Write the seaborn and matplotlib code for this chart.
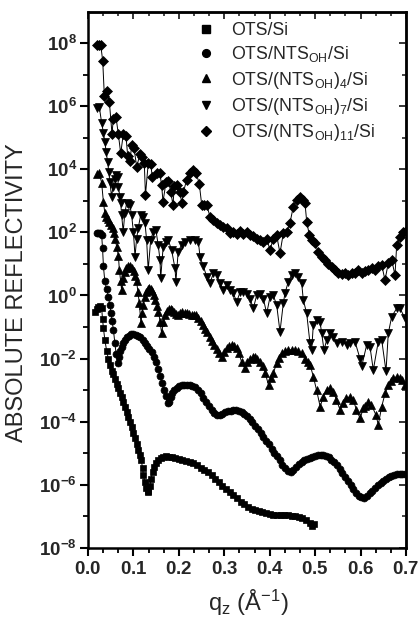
import numpy as np
import pandas as pd
import matplotlib
matplotlib.use("Agg")
import matplotlib.pyplot as plt
import seaborn as sns
from matplotlib.ticker import FixedLocator, FuncFormatter, MultipleLocator, NullFormatter
from matplotlib.lines import Line2D

# ---------------- data (q_z in 1/Angstrom, log10 of absolute reflectivity) ----------------
ots_si = [(0.015,-0.51),(0.019,-0.42),(0.023,-0.36),(0.027,-0.34),(0.030,-0.40),(0.032,-0.75),(0.034,-1.04),
    (0.037,-1.40),(0.041,-1.75),(0.045,-2.02),(0.048,-2.20),(0.052,-2.38),(0.056,-2.50),(0.060,-2.65),(0.063,-2.80),
    (0.067,-2.93),(0.071,-3.08),(0.074,-3.21),(0.078,-3.38),(0.082,-3.54),(0.085,-3.68),(0.089,-3.84),(0.093,-4.00),
    (0.096,-4.16),(0.100,-4.35),(0.104,-4.53),(0.107,-4.70),(0.111,-4.90),(0.114,-5.05),(0.117,-5.21),(0.120,-5.45),
    (0.122,-5.70),(0.125,-5.90),(0.128,-6.10),(0.131,-6.20),(0.133,-6.22),(0.136,-6.05),(0.139,-5.80),(0.142,-5.58),
    (0.146,-5.42),(0.150,-5.30),(0.155,-5.21),(0.160,-5.15),(0.166,-5.11),(0.172,-5.10),(0.178,-5.11),(0.185,-5.13),
    (0.192,-5.15),(0.200,-5.17),(0.208,-5.20),(0.216,-5.23),(0.224,-5.27),(0.232,-5.32),(0.240,-5.38),(0.248,-5.45),
    (0.256,-5.52),(0.264,-5.60),(0.272,-5.70),(0.280,-5.80),(0.288,-5.92),(0.296,-6.03),(0.304,-6.13),(0.312,-6.23),
    (0.320,-6.33),(0.328,-6.43),(0.336,-6.53),(0.344,-6.62),(0.352,-6.70),(0.360,-6.76),(0.368,-6.80),(0.376,-6.83),
    (0.384,-6.86),(0.392,-6.88),(0.400,-6.92),(0.408,-6.95),(0.416,-6.96),(0.424,-6.94),(0.432,-6.96),(0.440,-6.97),
    (0.448,-6.99),(0.456,-7.00),(0.464,-7.03),(0.472,-7.06),(0.480,-7.12),(0.488,-7.20),(0.494,-7.30),(0.498,-7.25)]

ots_nts1 = [(0.020,1.97),(0.023,1.99),(0.027,1.97),(0.030,1.92),(0.032,1.50),(0.034,0.92),(0.037,0.45),(0.041,0.20),
    (0.045,-0.04),(0.048,-0.30),(0.051,-0.57),(0.053,-0.82),(0.056,-1.09),(0.059,-1.50),(0.062,-1.85),(0.065,-2.15),
    (0.068,-1.95),(0.071,-1.75),(0.074,-1.62),(0.078,-1.50),(0.082,-1.40),(0.086,-1.33),(0.090,-1.27),(0.095,-1.23),
    (0.100,-1.22),(0.105,-1.24),(0.110,-1.28),(0.115,-1.33),(0.120,-1.40),(0.125,-1.49),(0.130,-1.59),(0.135,-1.70),
    (0.140,-1.80),(0.145,-1.95),(0.150,-2.12),(0.155,-2.32),(0.159,-2.55),(0.163,-2.78),(0.167,-3.00),(0.171,-3.18),
    (0.175,-3.40),(0.178,-3.38),(0.182,-3.22),(0.186,-3.08),(0.190,-2.98),(0.195,-2.92),(0.200,-2.87),(0.206,-2.84),
    (0.212,-2.83),(0.218,-2.83),(0.224,-2.84),(0.230,-2.86),(0.236,-2.90),(0.242,-2.98),(0.248,-3.10),(0.254,-3.25),
    (0.260,-3.38),(0.266,-3.50),(0.272,-3.62),(0.278,-3.72),(0.284,-3.78),(0.290,-3.78),(0.296,-3.74),(0.302,-3.70),
    (0.308,-3.67),(0.314,-3.65),(0.320,-3.64),(0.326,-3.64),(0.332,-3.66),(0.338,-3.70),(0.344,-3.75),(0.350,-3.82),
    (0.356,-3.92),(0.362,-4.02),(0.368,-4.12),(0.374,-4.24),(0.380,-4.35),(0.386,-4.47),(0.392,-4.60),(0.398,-4.72),
    (0.404,-4.85),(0.410,-4.98),(0.416,-5.10),(0.422,-5.22),(0.428,-5.36),(0.434,-5.48),(0.440,-5.56),(0.446,-5.58),
    (0.452,-5.52),(0.458,-5.43),(0.464,-5.35),(0.470,-5.28),(0.476,-5.22),(0.482,-5.18),(0.488,-5.15),(0.494,-5.11),
    (0.500,-5.08),(0.506,-5.05),(0.512,-5.04),(0.518,-5.05),(0.524,-5.08),(0.530,-5.13),(0.536,-5.20),(0.542,-5.28),
    (0.548,-5.38),(0.554,-5.50),(0.560,-5.62),(0.566,-5.75),(0.572,-5.88),(0.578,-6.00),(0.584,-6.14),(0.590,-6.26),
    (0.596,-6.34),(0.602,-6.40),(0.608,-6.42),(0.614,-6.36),(0.620,-6.26),(0.626,-6.18),(0.632,-6.10),(0.638,-6.02),
    (0.644,-5.95),(0.650,-5.88),(0.656,-5.82),(0.662,-5.76),(0.668,-5.72),(0.674,-5.68),(0.680,-5.66),(0.686,-5.64),
    (0.692,-5.65),(0.698,-5.67)]

ots_nts4 = [(0.020,3.85),(0.025,3.87),(0.030,3.57),(0.034,2.95),(0.037,2.62),(0.040,2.50),(0.044,2.42),(0.047,2.34),
    (0.051,2.24),(0.054,2.13),(0.057,1.98),(0.060,1.78),(0.063,1.55),(0.067,1.25),(0.069,0.81),(0.072,0.45),(0.074,0.17),
    (0.078,0.54),(0.081,0.75),(0.084,0.87),(0.088,0.93),(0.092,0.92),(0.096,0.88),(0.101,0.76),(0.104,0.62),(0.107,0.45),
    (0.110,0.10),(0.113,-0.25),(0.1165,-0.88),(0.119,-0.55),(0.122,-0.30),(0.125,-0.05),(0.128,0.12),(0.132,0.20),
    (0.135,0.23),(0.138,0.21),(0.141,0.15),(0.145,0.00),(0.148,-0.15),(0.151,-0.32),(0.155,-0.51),(0.159,-0.85),
    (0.162,-1.20),(0.166,-0.85),(0.170,-0.62),(0.174,-0.48),(0.178,-0.44),(0.182,-0.43),(0.186,-0.46),(0.190,-0.52),
    (0.194,-0.58),(0.199,-0.62),(0.203,-0.56),(0.208,-0.52),(0.213,-0.54),(0.218,-0.57),(0.223,-0.60),(0.228,-0.62),
    (0.233,-0.62),(0.238,-0.63),(0.243,-0.70),(0.248,-0.80),(0.253,-0.93),(0.258,-1.05),(0.263,-1.17),(0.268,-1.30),
    (0.273,-1.43),(0.278,-1.57),(0.283,-1.70),(0.288,-1.83),(0.294,-1.94),(0.299,-1.78),(0.305,-1.67),(0.311,-1.60),
    (0.316,-1.57),(0.322,-1.60),(0.327,-1.67),(0.332,-1.82),(0.338,-2.10),(0.3455,-2.31),(0.351,-2.12),(0.357,-2.02),
    (0.363,-1.96),(0.368,-1.94),(0.373,-2.00),(0.379,-2.10),(0.385,-2.25),(0.390,-2.45),(0.3975,-2.85),(0.403,-2.62),
    (0.408,-2.46),(0.415,-2.15),(0.421,-1.98),(0.427,-1.83),(0.434,-1.76),(0.441,-1.73),(0.448,-1.72),(0.456,-1.73),
    (0.463,-1.76),(0.470,-1.83),(0.478,-2.00),(0.484,-2.10),(0.489,-2.20),(0.496,-2.57),(0.503,-2.99),(0.511,-3.52),
    (0.518,-3.21),(0.525,-2.99),(0.533,-2.94),(0.540,-3.05),(0.547,-3.31),(0.555,-3.63),(0.562,-3.40),(0.569,-3.25),
    (0.577,-3.21),(0.584,-3.31),(0.591,-3.63),(0.599,-3.89),(0.606,-3.58),(0.610,-3.50),(0.617,-3.36),(0.624,-3.47),
    (0.634,-3.79),(0.639,-4.10),(0.6465,-3.52),(0.654,-3.10),(0.661,-2.84),(0.667,-2.70),(0.672,-2.62),(0.680,-2.57),
    (0.686,-2.60),(0.691,-2.68),(0.698,-2.84)]

ots_nts7 = [(0.020,5.95),(0.025,5.96),(0.030,5.47),(0.034,5.15),(0.037,4.87),(0.040,4.55),(0.043,4.24),(0.046,3.90),
    (0.048,3.60),(0.052,3.13),(0.055,3.45),(0.059,3.70),(0.062,3.82),(0.065,3.76),(0.067,3.45),(0.070,3.13),(0.072,2.92),
    (0.074,2.55),(0.0775,2.02),(0.081,2.60),(0.085,2.92),(0.089,2.90),(0.092,2.87),(0.096,2.55),(0.100,2.00),(0.1035,1.23),
    (0.107,1.80),(0.1105,2.13),(0.116,2.55),(0.1215,2.50),(0.1255,2.29),(0.129,1.76),(0.1325,0.81),(0.138,1.76),
    (0.1435,2.02),(0.1495,2.07),(0.1545,1.60),(0.1585,1.12),(0.160,0.54),(0.1655,1.55),(0.1715,1.70),(0.1765,1.76),
    (0.184,1.44),(0.1915,0.86),(0.1935,0.44),(0.1985,1.39),(0.206,1.60),(0.2135,1.70),(0.2245,1.76),(0.2355,1.76),
    (0.243,1.70),(0.2465,1.23),(0.254,0.92),(0.2613,0.60),(0.2685,0.39),(0.2758,0.70),(0.2833,0.65),(0.2906,0.39),
    (0.2978,0.17),(0.3053,0.33),(0.3126,0.17),(0.3198,0.07),(0.3273,-0.20),(0.3346,0.10),(0.3419,0.12),(0.3493,0.05),
    (0.3566,-0.10),(0.3639,-0.41),(0.3712,0.00),(0.3786,0.05),(0.3859,-0.10),(0.3934,-0.57),(0.4006,-0.05),(0.4079,0.00),
    (0.4153,-0.30),(0.4226,-1.15),(0.4299,-0.25),(0.4336,0.07),(0.441,0.44),(0.4484,0.65),(0.4556,0.70),(0.4629,0.60),
    (0.4704,0.39),(0.4739,-0.14),(0.4814,-0.57),(0.4887,-1.52),(0.4924,-1.73),(0.4959,-0.94),(0.5034,-0.78),(0.5107,-0.83),
    (0.5144,-1.20),(0.5195,-1.73),(0.5254,-1.41),(0.5327,-1.20),(0.540,-1.30),(0.5474,-1.52),(0.5584,-1.46),(0.5694,-1.57),
    (0.5767,-1.52),(0.5877,-1.46),(0.5987,-2.00),(0.6024,-2.25),(0.6134,-1.57),(0.6207,-1.62),(0.628,-2.36),(0.639,-1.46),
    (0.6465,-1.41),(0.656,-2.40),(0.661,-1.20),(0.6685,-0.67),(0.6795,-0.41),(0.6868,-0.41),(0.6978,-0.72)]

ots_nts11 = [(0.019,7.94),(0.024,7.95),(0.028,7.94),(0.0324,7.43),(0.036,6.32),(0.041,6.48),(0.047,6.14),(0.0528,5.12),
    (0.0557,5.58),(0.0616,5.65),(0.0667,5.12),(0.072,4.50),(0.0777,5.11),(0.0836,5.05),(0.0874,4.42),(0.0925,4.26),
    (0.0962,4.77),(0.1013,4.66),(0.1072,4.08),(0.1145,4.48),(0.1182,4.40),(0.1239,4.19),(0.1265,3.18),(0.1327,4.21),
    (0.138,4.16),(0.1416,3.76),(0.1525,3.87),(0.158,3.89),(0.162,3.50),(0.1651,2.97),(0.172,3.61),(0.177,3.64),
    (0.182,3.29),(0.1871,2.87),(0.190,3.47),(0.196,3.50),(0.2025,3.29),(0.2063,2.92),(0.210,3.27),(0.217,3.66),
    (0.2245,3.89),(0.232,3.98),(0.238,3.89),(0.245,3.53),(0.2503,2.87),(0.2555,2.88),(0.2613,2.87),(0.2685,2.50),
    (0.2758,2.39),(0.2833,2.30),(0.2906,2.23),(0.2978,2.18),(0.3053,2.13),(0.3126,1.97),(0.3198,2.02),(0.3273,1.95),
    (0.3346,2.03),(0.3419,1.95),(0.3493,2.02),(0.3566,1.90),(0.3639,1.87),(0.3712,1.80),(0.3786,1.76),(0.3859,1.70),
    (0.3934,1.80),(0.4006,1.44),(0.4079,1.80),(0.4153,1.90),(0.4226,1.34),(0.4299,1.97),(0.4372,2.00),(0.4446,2.30),
    (0.4519,2.81),(0.4594,3.03),(0.4666,3.13),(0.4739,3.03),(0.4777,2.92),(0.4814,2.34),(0.4871,1.92),(0.4924,1.76),
    (0.4997,1.65),(0.5069,1.39),(0.5144,1.23),(0.5217,1.12),(0.529,1.00),(0.5364,0.91),(0.5437,0.81),(0.551,0.70),
    (0.5584,0.68),(0.5657,0.72),(0.573,0.66),(0.5804,0.70),(0.5877,0.72),(0.595,0.80),(0.6024,0.70),(0.6097,0.78),
    (0.617,0.81),(0.6245,0.86),(0.6318,0.80),(0.639,0.92),(0.6465,0.97),(0.6537,0.49),(0.661,1.02),(0.6685,1.12),
    (0.6758,0.65),(0.6795,1.60),(0.6868,1.86),(0.694,2.02),(0.700,2.05)]

labels = ['OTS/Si',
          r'OTS/NTS$_{\mathrm{OH}}$/Si',
          r'OTS/(NTS$_{\mathrm{OH}}$)$_{\mathrm{4}}$/Si',
          r'OTS/(NTS$_{\mathrm{OH}}$)$_{\mathrm{7}}$/Si',
          r'OTS/(NTS$_{\mathrm{OH}}$)$_{\mathrm{11}}$/Si']
x_ticks = [0.0, 0.1, 0.2, 0.3, 0.4, 0.5, 0.6, 0.7]
y_exponents = [-8, -6, -4, -2, 0, 2, 4, 6, 8]

# ---------------- styling ----------------
sns.set_theme(style="ticks")
plt.rcParams['font.family'] = ['Liberation Sans', 'DejaVu Sans']
plt.rcParams['mathtext.fontset'] = 'custom'
plt.rcParams['mathtext.rm'] = 'Liberation Sans'
plt.rcParams['mathtext.it'] = 'Liberation Sans:italic'
plt.rcParams['mathtext.bf'] = 'Liberation Sans:bold'

fig = plt.figure(figsize=(4.19, 6.29), dpi=100)
ax = fig.add_axes([88/419, 1-548/629, 318/419, 536/629])

styles = [('s', 4.6), ('o', 5.0), ('^', 5.6), ('v', 5.6), ('D', 4.8)]
all_series = [ots_si, ots_nts1, ots_nts4, ots_nts7, ots_nts11]

for pairs, (mk, ms), lab in zip(all_series, styles, labels):
    q, L = zip(*pairs)
    df = pd.DataFrame({'q': q, 'R': np.power(10.0, np.array(L))})
    sns.lineplot(data=df, x='q', y='R', ax=ax, color='black', linewidth=0.7,
                 marker=mk, markersize=ms, markeredgecolor='black', markeredgewidth=0.5,
                 estimator=None, sort=False, legend=False)

ax.set_yscale('log')
ax.set_xlim(0.0, 0.7)
ax.set_ylim(1e-8, 10**8.98)

ax.yaxis.set_major_locator(FixedLocator([10.0**k for k in y_exponents]))
ax.yaxis.set_minor_locator(FixedLocator([10.0**k for k in range(-7, 9, 2)]))
ax.yaxis.set_major_formatter(FuncFormatter(lambda v, p: r'$\mathbf{10^{%d}}$' % int(round(np.log10(v)))))
ax.yaxis.set_minor_formatter(NullFormatter())
ax.xaxis.set_major_locator(FixedLocator(x_ticks))
ax.xaxis.set_minor_locator(MultipleLocator(0.1/3))
ax.xaxis.set_major_formatter(FuncFormatter(lambda v, p: r'$\mathbf{%.1f}$' % v))

for s in ax.spines.values():
    s.set_linewidth(1.8)
    s.set_color('black')
ax.tick_params(which='major', direction='out', length=6, width=1.5, color='black', pad=2)
ax.tick_params(axis='y', which='major', labelsize=13.5)
ax.tick_params(axis='x', which='major', labelsize=13.5, pad=3)
ax.tick_params(which='minor', direction='out', length=3.5, width=1.3, color='black')

# inward ticks on top and right
sec_y = ax.secondary_yaxis('right')
sec_y.yaxis.set_major_locator(FixedLocator([10.0**k for k in y_exponents]))
sec_y.yaxis.set_minor_locator(FixedLocator([10.0**k for k in range(-7, 9, 2)]))
sec_y.yaxis.set_major_formatter(NullFormatter())
sec_y.yaxis.set_minor_formatter(NullFormatter())
sec_y.tick_params(which='major', direction='in', length=5, width=1.3)
sec_y.tick_params(which='minor', direction='in', length=3, width=1.2)
sec_y.spines['right'].set_linewidth(1.8)
sec_x = ax.secondary_xaxis('top')
sec_x.xaxis.set_major_locator(FixedLocator(x_ticks))
sec_x.xaxis.set_minor_locator(MultipleLocator(0.1/3))
sec_x.xaxis.set_major_formatter(NullFormatter())
sec_x.tick_params(which='major', direction='in', length=5, width=1.3)
sec_x.tick_params(which='minor', direction='in', length=3, width=1.2)
sec_x.spines['top'].set_linewidth(1.8)

ax.set_ylabel('ABSOLUTE REFLECTIVITY', fontsize=17)
ax.yaxis.set_label_coords((28-88)/318, 0.476)
ax.set_xlabel(r'q$_{\mathrm{z}}$ (Å$^{-1}$)', fontsize=17)
ax.xaxis.set_label_coords(0.503, -(588-548)/536)
ax.xaxis.label.set_va('top')

handles = [Line2D([], [], linestyle='none', marker=mk, markersize=ms + 0.6, color='black')
           for (mk, ms) in styles]
ax.legend(handles, labels, loc='upper left', bbox_to_anchor=((199-88)/318, (548-22)/536),
          frameon=False, fontsize=12.8, handlelength=0.8, handletextpad=1.0,
          labelspacing=0.3, borderpad=0, borderaxespad=0)

fig.savefig('out.png', dpi=100)
